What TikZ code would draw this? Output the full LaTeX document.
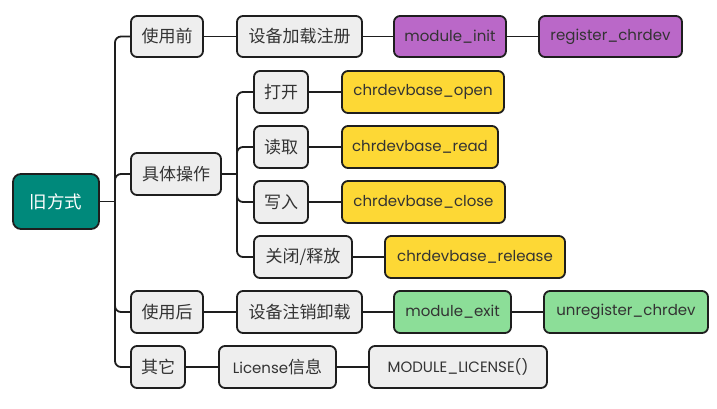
\documentclass[tikz,border=0pt]{standalone}
\usepackage{fontspec}
\setmainfont{Poppins}
\newfontfamily\cjk{Noto Sans CJK SC}
\definecolor{linecol}{HTML}{1E1E1E}
\definecolor{textcol}{HTML}{333333}
\definecolor{rootfill}{HTML}{00897B}
\definecolor{grayfill}{HTML}{EEEEEE}
\definecolor{purplefill}{HTML}{BA68C8}
\definecolor{yellowfill}{HTML}{FDD835}
\definecolor{greenfill}{HTML}{8CDE98}
\tikzset{ box/.style = { rectangle % topic box
        , rounded corners = 6pt
        , draw = linecol
        , line width = 1.8pt
        , minimum height = 41pt
        , inner sep = 0pt
        , text = textcol
        , font = \fontsize{15}{18}\selectfont
        }
        , gbox/.style = { box % plain topic
        , fill = grayfill
        }
        , pbox/.style = { box % load / register
        , fill = purplefill
        }
        , ybox/.style = { box % file operation
        , fill = yellowfill
        }
        , ebox/.style = { box % exit / unregister
        , fill = greenfill
        }
        }

\begin{document}
\begin{tikzpicture}[x=1pt, y=-1pt,
        root_style/.style={box,fill=rootfill,text=white,rounded corners=8pt,minimum height=55pt,font=\cjk\fontsize{17.5}{20}\selectfont},
        cjk_style/.style={font=\cjk\fontsize{17}{20}\selectfont},
        edge_style/.style={draw=linecol, line width=1.8pt, rounded corners=6pt}]
        \useasboundingbox (0,0) rectangle (717,408);

        \node [root_style,minimum width=86pt](n0) at (56,201.5) {旧方式};

        \node [gbox,cjk_style,minimum width=72pt](n1) at (167,36.5) {使用前};
        \node [gbox,cjk_style,minimum width=125pt](n2) at (299.5,36.5) {设备加载注册};
        \node [pbox,minimum width=112pt](n3) at (450,36.5) {module\_init};
        \node [pbox,minimum width=143pt](n4) at (610.5,36.5) {register\_chrdev};

        \node [gbox,cjk_style,minimum width=90pt,minimum height=42pt](n5) at (176,174) {具体操作};
        \node [gbox,cjk_style,minimum width=54pt,minimum height=42pt](n6) at (281,92) {打开};
        \node [ybox,minimum width=162pt,minimum height=42pt](n7) at (423,92) {chrdevbase\_open};
        \node [gbox,cjk_style,minimum width=54pt,minimum height=42pt](n8) at (281,147) {读取};
        \node [ybox,minimum width=156pt,minimum height=42pt](n9) at (420,147) {chrdevbase\_read};
        \node [gbox,cjk_style,minimum width=54pt,minimum height=42pt](n10) at (281,202) {写入};
        \node [ybox,minimum width=163pt,minimum height=42pt](n11) at (423.5,202) {chrdevbase\_close};
        \node [gbox,cjk_style,minimum width=98pt,minimum height=42pt](n12) at (303,257) {关闭/释放};
        \node [ybox,minimum width=180pt,minimum height=42pt](n13) at (475,257) {chrdevbase\_release};

        \node [gbox,cjk_style,minimum width=72pt,minimum height=42pt](n14) at (167,312) {使用后};
        \node [gbox,cjk_style,minimum width=125pt,minimum height=42pt](n15) at (299.5,312) {设备注销卸载};
        \node [ebox,minimum width=117pt,minimum height=42pt](n16) at (452.5,312) {module\_exit};
        \node [ebox,minimum width=164pt,minimum height=42pt](n17) at (626,312) {unregister\_chrdev};

        \node [gbox,cjk_style,minimum width=54pt,minimum height=42pt](n18) at (158,367) {其它};
        \node [gbox,minimum width=117pt,minimum height=42pt](n19) at (277.5,367) {License{\cjk\fontsize{17}{20}\selectfont 信息}};
        \node [gbox,minimum width=178pt,minimum height=42pt](n20) at (458,367) {MODULE\_LICENSE()};

        \coordinate (t1) at (115,201.5);
        \coordinate (t2) at (237,174);
        \draw [edge_style] (n0) -- (t1);
        \draw [edge_style] (t1) |- (n1);
        \draw [edge_style] (t1) |- (n5);
        \draw [edge_style] (t1) |- (n14);
        \draw [edge_style] (t1) |- (n18);
        \draw [edge_style] (n1) -- (n2);
        \draw [edge_style] (n2) -- (n3);
        \draw [edge_style] (n3) -- (n4);
        \draw [edge_style] (n5) -- (t2);
        \draw [edge_style] (t2) |- (n6);
        \draw [edge_style] (t2) |- (n8);
        \draw [edge_style] (t2) |- (n10);
        \draw [edge_style] (t2) |- (n12);
        \draw [edge_style] (n6) -- (n7);
        \draw [edge_style] (n8) -- (n9);
        \draw [edge_style] (n10) -- (n11);
        \draw [edge_style] (n12) -- (n13);
        \draw [edge_style] (n14) -- (n15);
        \draw [edge_style] (n15) -- (n16);
        \draw [edge_style] (n16) -- (n17);
        \draw [edge_style] (n18) -- (n19);
        \draw [edge_style] (n19) -- (n20);
\end{tikzpicture}
\end{document}
